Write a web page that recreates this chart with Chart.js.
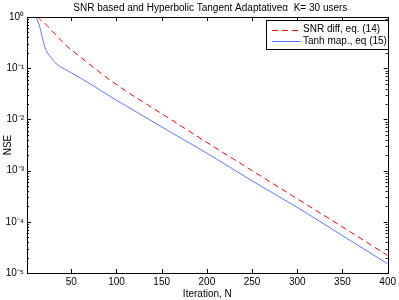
<!DOCTYPE html>
<html>
<head>
<meta charset="utf-8">
<script src="https://cdn.jsdelivr.net/npm/chart.js@4"></script>
<style>
  html, body { margin: 0; padding: 0; background: #fff; }
  #wrap { width: 399px; height: 300px; }
</style>
</head>
<body>
<div id="wrap"><canvas id="nse"></canvas></div>
<script>
// values
const iterSnr = [1, 12, 16, 20, 26, 35, 44, 52, 60, 75, 92, 110, 134, 160, 200, 250, 300, 350, 400];
const nseSnr  = [1, 1, 0.87, 0.776, 0.603, 0.407, 0.282, 0.214, 0.166, 0.102, 0.0603, 0.0363, 0.0195, 0.0100, 0.00355, 0.00100, 2.82e-4, 7.94e-5, 2.2e-5];

const iterTanh = [1, 10, 11, 12, 14, 16, 18, 20, 22, 24, 28, 32, 38, 44, 50, 60, 75, 92, 110, 136, 160, 200, 250, 300, 350, 400];
const nseTanh  = [1, 1, 0.977, 0.912, 0.741, 0.562, 0.398, 0.288, 0.229, 0.195, 0.158, 0.129, 0.107, 0.0933, 0.0813, 0.0646, 0.0447, 0.0288, 0.0186, 0.0100, 0.00562, 0.00219, 6.31e-4, 1.91e-4, 5.37e-5, 1.51e-5];

const xTicks = [50, 100, 150, 200, 250, 300, 350, 400];
const yTicks = [1e-5, 1e-4, 1e-3, 1e-2, 1e-1, 1];
const yTickLabels = ['10⁻⁵', '10⁻⁴', '10⁻³', '10⁻²', '10⁻¹', '10⁰'];
const seriesNames = ['SNR diff, eq. (14)', 'Tanh map., eq (15)'];
const chartTitle = 'SNR based and Hyperbolic Tangent Adaptativeα  K= 30 users';
const yTitle = 'NSE';

const FONT = '"Liberation Sans", Arial, sans-serif';

function toPoints(xs, ys) {
    return xs.map((x, i) => ({ x: x, y: ys[i] }));
}

// box, inside ticks, titles and legend, matlab style
const matlabFrame = {
    id: 'matlabFrame',
    afterDatasetsDraw(chart) {
        const ctx = chart.ctx;
        const a = chart.chartArea;
        const xs = chart.scales.x;
        const ys = chart.scales.y;
        ctx.save();
        ctx.strokeStyle = '#000';
        ctx.lineWidth = 1;

        // x ticks top and bottom
        ctx.beginPath();
        xTicks.forEach(v => {
            const px = Math.round(xs.getPixelForValue(v)) + 0.5;
            ctx.moveTo(px, a.bottom); ctx.lineTo(px, a.bottom - 4);
            ctx.moveTo(px, a.top); ctx.lineTo(px, a.top + 4);
        });
        // y ticks, majors and minors, left and right
        for (let e = -5; e <= 0; e++) {
            for (let m = 1; m <= 9; m++) {
                const v = m * Math.pow(10, e);
                if (v > 1.0001) continue;
                const py = Math.round(ys.getPixelForValue(v)) + 0.5;
                const len = m === 1 ? 4 : 2;
                ctx.moveTo(a.left, py); ctx.lineTo(a.left + len, py);
                ctx.moveTo(a.right, py); ctx.lineTo(a.right - len, py);
            }
        }
        ctx.stroke();

        // plot box
        ctx.strokeRect(Math.round(a.left) + 0.5, Math.round(a.top) + 0.5,
            Math.round(a.right - a.left), Math.round(a.bottom - a.top));

        // title
        ctx.fillStyle = '#000';
        ctx.font = '10px ' + FONT;
        ctx.textAlign = 'center';
        ctx.textBaseline = 'middle';
        ctx.fillText(chartTitle, (a.left + a.right) / 2 + 3, 8);

        // y axis title
        ctx.save();
        ctx.translate(8, (a.top + a.bottom) / 2);
        ctx.rotate(-Math.PI / 2);
        ctx.fillText(yTitle, 0, 0);
        ctx.restore();

        // legend
        const lx = 266, ly = 20, lw = 122, lh = 29;
        ctx.fillStyle = '#fff';
        ctx.fillRect(lx, ly, lw, lh);
        ctx.strokeRect(lx + 0.5, ly + 0.5, lw, lh);
        chart.data.datasets.forEach((ds, i) => {
            const y = ly + 9.5 + i * 11.5;
            ctx.beginPath();
            ctx.strokeStyle = ds.borderColor;
            ctx.setLineDash(ds.borderDash || []);
            ctx.moveTo(272, Math.round(y) + 0.5);
            ctx.lineTo(301, Math.round(y) + 0.5);
            ctx.stroke();
            ctx.setLineDash([]);
            ctx.fillStyle = '#000';
            ctx.textAlign = 'left';
            ctx.fillText(ds.label, 303, y);
        });
        ctx.restore();
    }
};

new Chart(document.getElementById('nse'), {
    type: 'line',
    data: {
        datasets: [{
            label: seriesNames[0],
            data: toPoints(iterSnr, nseSnr),
            borderColor: '#ff0000',
            borderDash: [6, 4],
            borderWidth: 1,
            pointRadius: 0,
            cubicInterpolationMode: 'monotone',
            fill: false
        }, {
            label: seriesNames[1],
            data: toPoints(iterTanh, nseTanh),
            borderColor: '#5a78ff',
            borderWidth: 1,
            pointRadius: 0,
            cubicInterpolationMode: 'monotone',
            fill: false
        }]
    },
    options: {
        responsive: true,
        maintainAspectRatio: false,
        animation: false,
        devicePixelRatio: 1,
        layout: { padding: { top: 17, right: 8, left: 0, bottom: 0 } },
        plugins: {
            legend: { display: false },
            title: { display: false },
            tooltip: { enabled: false }
        },
        scales: {
            x: {
                type: 'linear',
                min: 1,
                max: 400,
                grid: { display: false, drawTicks: false },
                border: { display: false },
                afterBuildTicks: s => { s.ticks = xTicks.map(v => ({ value: v })); },
                afterFit: s => { s.height = 27; },
                ticks: {
                    color: '#000',
                    padding: 3,
                    maxRotation: 0,
                    autoSkip: false,
                    font: { family: FONT, size: 10 }
                },
                title: {
                    display: true,
                    text: 'Iteration, N',
                    color: '#000',
                    padding: 0,
                    font: { family: FONT, size: 10 }
                }
            },
            y: {
                type: 'logarithmic',
                min: 1e-5,
                max: 1,
                grid: { display: false, drawTicks: false },
                border: { display: false },
                afterBuildTicks: s => { s.ticks = yTicks.map(v => ({ value: v })); },
                afterFit: s => { s.width = 27; },
                ticks: {
                    color: '#000',
                    padding: 3,
                    autoSkip: false,
                    font: { family: FONT, size: 10 },
                    callback: function(value) {
                        const i = yTicks.findIndex(t => Math.abs(t - value) / t < 1e-6);
                        return i >= 0 ? yTickLabels[i] : '';
                    }
                },
                title: { display: false }
            }
        }
    },
    plugins: [matlabFrame]
});
</script>
</body>
</html>
